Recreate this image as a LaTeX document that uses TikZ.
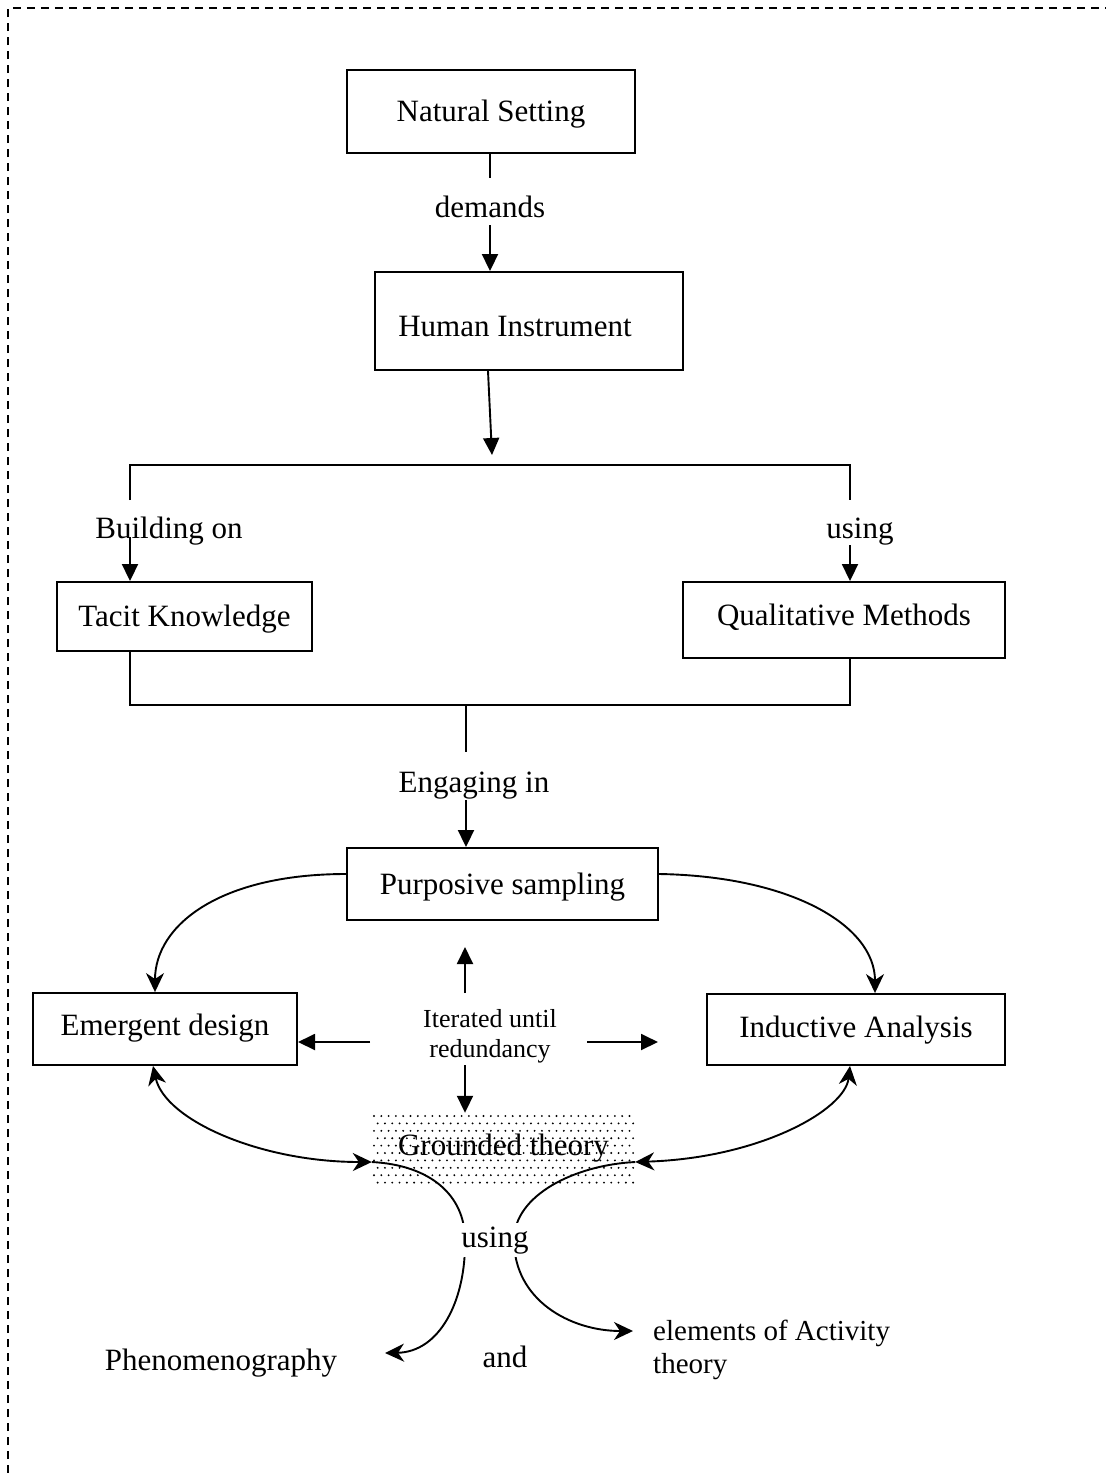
\documentclass[tikz,border=0pt]{standalone}
\usepackage{fontspec}
\setmainfont{Liberation Serif}
\usetikzlibrary{arrows.meta,calc}
\newcommand\fsmain{\fontsize{31}{36}\selectfont}
\newcommand\fsnote{\fontsize{26}{30}\selectfont}
\newcommand\fsside{\fontsize{29}{33}\selectfont}
\begin{document}
\begin{tikzpicture}[x=1pt,y=-1pt,
  box/.style={draw,line width=1.9pt,inner sep=0pt,font=\fsmain,text height=24pt,text depth=4pt},
  lbl/.style={inner sep=0pt,font=\fsmain,text height=24pt,text depth=4pt},
  link/.style={line width=1.9pt},
  arr/.style={link,-{Triangle[length=17pt,width=16pt]}},
  carr/.style={link,-{Stealth[length=19pt,width=18pt,inset=6pt]}},
  dcarr/.style={link,{Stealth[length=19pt,width=18pt,inset=6pt]}-{Stealth[length=19pt,width=18pt,inset=6pt]}}]

\useasboundingbox (0,0) rectangle (1106,1473);
% dashed frame (top and left edges)
\draw[line width=1.9pt,dash pattern=on 8pt off 6pt] (8,1473) -- (8,8) -- (1106,8);

% boxes and labels
\node[box,minimum width=288,minimum height=83] (ns) at (491,111.5) {Natural Setting};
\node[lbl] (dem) at (490,207) {demands};
\coordinate (demin) at (490,178);
\coordinate (demout) at (490,225);
\node[box,minimum width=308,minimum height=98,text height=34pt] (hi) at (529,321) {\hspace*{-28pt}Human Instrument};
\coordinate (hiout) at (492,455);

\coordinate (bl) at (130,465);
\coordinate (br) at (850,465);
\coordinate (bld) at (130,500);
\coordinate (brd) at (850,500);
\node[lbl] (build) at (169,528) {Building on};
\node[lbl] (usingr) at (860,528) {using};
\coordinate (buildout) at (130,537);
\coordinate (usingout) at (850,545);

\node[box,minimum width=255,minimum height=69] (tk) at (184.5,616.5) {Tacit Knowledge};
\node[box,minimum width=322,minimum height=76,text height=14pt] (qm) at (844,620) {Qualitative Methods};

\coordinate (jl) at (130,705);
\coordinate (jr) at (850,705);
\coordinate (jm) at (466,705);
\coordinate (jmd) at (466,752);
\node[lbl] (eng) at (474,782) {Engaging in};
\coordinate (engout) at (466,800);

\node[box,minimum width=311,minimum height=72] (ps) at (502.5,884) {Purposive sampling};
\node[box,minimum width=264,minimum height=72,text height=16pt] (ed) at (165,1029) {Emergent design};
\node[box,minimum width=298,minimum height=71,text height=19pt] (ia) at (856,1029.5) {Inductive Analysis};

\node[inner sep=0pt,font=\fsnote,align=center] (iter) at (490,1036) {Iterated until\\redundancy};
\coordinate (itu) at (465,993);
\coordinate (itut) at (465,947);
\coordinate (itl) at (370,1042);
\coordinate (itlt) at (298,1042);
\coordinate (itr) at (587,1042);
\coordinate (itrt) at (658,1042);
\coordinate (itd) at (465,1065);

% dotted fill behind "Grounded theory"
\foreach \i in {0,...,35}{
  \foreach \j in {0,...,9}{
    \pgfmathsetmacro\dx{374+\i*7.3+mod(\j,2)*3.65}
    \pgfmathsetmacro\dy{1116+\j*7.4}
    \fill[black] (\dx,\dy) circle (1.05);
  }
}
\node[inner sep=0pt,minimum width=263,minimum height=72,font=\fsmain,text height=16pt,text depth=4pt] (gt) at (503.5,1149) {Grounded theory};

\node[lbl] (phen) at (221,1360) {Phenomenography};
\node[lbl] (and) at (505,1357) {and};
\node[inner sep=0pt,font=\fsside,align=left,anchor=west] (elem) at (653,1350) {elements of Activity\\theory};
\coordinate (phenarr) at (385,1353);
\coordinate (elemarr) at (633,1331);

% connectors
\draw[link] (ns.south -| demin) -- (demin);
\draw[arr] (demout) -- (hi.north -| demout);
\draw[arr] ([xshift=-41pt]hi.south) -- (hiout);
\draw[link] (bld) -- (bl) -- (br) -- (brd);
\draw[arr] (buildout) -- (tk.north -| bl);
\draw[arr] (usingout) -- (qm.north -| br);
\draw[link] (tk.south -| jl) -- (jl) -- (jr) -- (qm.south -| jr);
\draw[link] (jm) -- (jmd);
\draw[arr] (engout) -- (ps.north -| jm);

\draw[carr] ([yshift=10pt]ps.west) .. controls (220,874) and (155,925) .. ([xshift=-10pt]ed.north);
\draw[carr] ([yshift=10pt]ps.east) .. controls (790,876) and (875,925) .. ([xshift=19pt]ia.north);

\draw[arr] (itu) -- (itut);
\draw[arr] (itl) -- (itlt);
\draw[arr] (itr) -- (itrt);
\draw[arr] (itd) -- (gt.north -| itd);

\draw[dcarr] ([xshift=-12pt]ed.south) .. controls (165,1120) and (260,1162) .. ([yshift=-13pt]gt.west);
\draw[dcarr] ([xshift=-6pt]ia.south) .. controls (845,1110) and (760,1158) .. ([yshift=-13pt]gt.east);

\draw[carr] ([yshift=-13pt]gt.west) .. controls (430,1165) and (465,1195) .. (465,1240)
  .. controls (466,1300) and (440,1352) .. (phenarr);
\draw[carr] ([yshift=-13pt]gt.east) .. controls (575,1165) and (514,1195) .. (514,1240)
  .. controls (514,1300) and (570,1331) .. (elemarr);

\node[lbl,fill=white,text depth=10pt] (use) at (495,1240) {using};
\end{tikzpicture}
\end{document}
